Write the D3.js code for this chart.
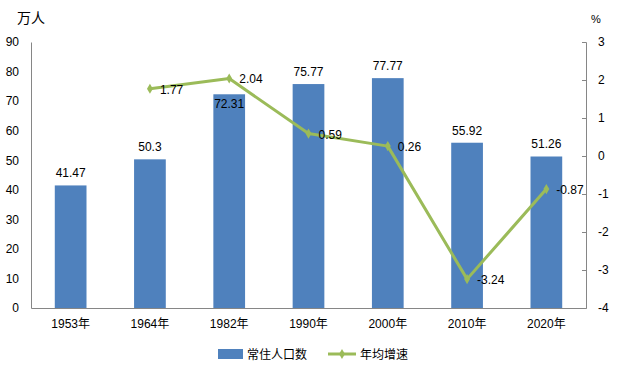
<!DOCTYPE html>
<html><head><meta charset="utf-8">
<script src="https://cdn.jsdelivr.net/npm/d3@7"></script>
<style>body{margin:0;background:#fff}svg{display:block}text{font-family:"Liberation Sans","Noto Sans CJK SC",sans-serif;fill:#000}</style>
</head><body><svg id="c" width="618" height="371"></svg>
<script>
const categories = ["1953年","1964年","1982年","1990年","2000年","2010年","2020年"];
const population = [41.47,50.3,72.31,75.77,77.77,55.92,51.26];
const growth = [null,1.77,2.04,0.59,0.26,-3.24,-0.87];
const leftTicks = [0,10,20,30,40,50,60,70,80,90];
const rightTicks = [-4,-3,-2,-1,0,1,2,3];

const svg = d3.select("#c");
const L=31, R=586, T=42, B=308;
const x = d3.scaleBand().domain(categories).range([L,R]).paddingInner(0.6).paddingOuter(0.3);
const xc = d => x(d)+x.bandwidth()/2;
const y = d3.scaleLinear().domain([0,90]).range([B,T]);
const y2 = d3.scaleLinear().domain([-4,3]).range([B,T]);

// bars
svg.selectAll("rect.bar").data(population).join("rect").attr("class","bar")
  .attr("x",(d,i)=>x(categories[i])).attr("width",x.bandwidth())
  .attr("y",d=>y(d)).attr("height",d=>B-y(d)).attr("fill","#4F81BD");

// axes
const gl = svg.append("g").attr("transform",`translate(${L},0)`)
  .call(d3.axisLeft(y).tickValues(leftTicks).tickFormat(d=>String(d)).tickSize(0).tickPadding(12));
const gr = svg.append("g").attr("transform",`translate(${R},0)`)
  .call(d3.axisRight(y2).tickValues(rightTicks).tickFormat(d=>String(d)).tickSize(-4).tickPadding(12));
const gb = svg.append("g").attr("transform",`translate(0,${B})`)
  .call(d3.axisBottom(x).tickSize(0).tickPadding(11));
[gl,gr,gb].forEach(g=>{
  g.select(".domain").attr("stroke","#868686");
  g.selectAll(".tick line").attr("stroke","#868686");
  g.selectAll("text").attr("font-size",12).attr("fill","#000")
    .style("font-family",'"Liberation Sans","Noto Sans CJK SC",sans-serif');
});
gr.selectAll(".tick text").attr("x",12);

// bar labels
svg.selectAll("text.bl").data(population).join("text").attr("class","bl")
  .attr("x",(d,i)=>xc(categories[i]))
  .attr("y",(d,i)=> i===2 ? y(d)+14 : y(d)-8)
  .attr("text-anchor","middle").attr("font-size",12).text(d=>d);

// line
const pts = growth.map((v,i)=>({v,c:categories[i]})).filter(d=>d.v!==null);
const line = d3.line().x(d=>xc(d.c)).y(d=>y2(d.v));
svg.append("path").datum(pts).attr("d",line).attr("fill","none")
  .attr("stroke","#9BBB59").attr("stroke-width",3).attr("stroke-linejoin","round");
svg.selectAll("path.mk").data(pts).join("path").attr("class","mk")
  .attr("d",d3.symbol(d3.symbolDiamond,30)).attr("fill","#9BBB59")
  .attr("transform",d=>`translate(${xc(d.c)},${y2(d.v)})`);
svg.selectAll("text.ll").data(pts).join("text").attr("class","ll")
  .attr("x",d=>xc(d.c)+10).attr("y",d=>y2(d.v)+5)
  .attr("font-size",12).text(d=>d.v);

// unit labels
svg.append("text").attr("x",17).attr("y",23).attr("font-size",14).text("万人");
svg.append("text").attr("x",591).attr("y",23).attr("font-size",11).text("%");

// legend
const lg = svg.append("g");
lg.append("rect").attr("x",218).attr("y",349).attr("width",25).attr("height",10).attr("fill","#4F81BD");
lg.append("text").attr("x",247).attr("y",359).attr("font-size",12).text("常住人口数");
lg.append("line").attr("x1",328).attr("x2",356).attr("y1",354).attr("y2",354).attr("stroke","#9BBB59").attr("stroke-width",3);
lg.append("path").attr("d",d3.symbol(d3.symbolDiamond,30)).attr("fill","#9BBB59").attr("transform","translate(342,354)");
lg.append("text").attr("x",360).attr("y",359).attr("font-size",12).text("年均增速");
</script></body></html>
